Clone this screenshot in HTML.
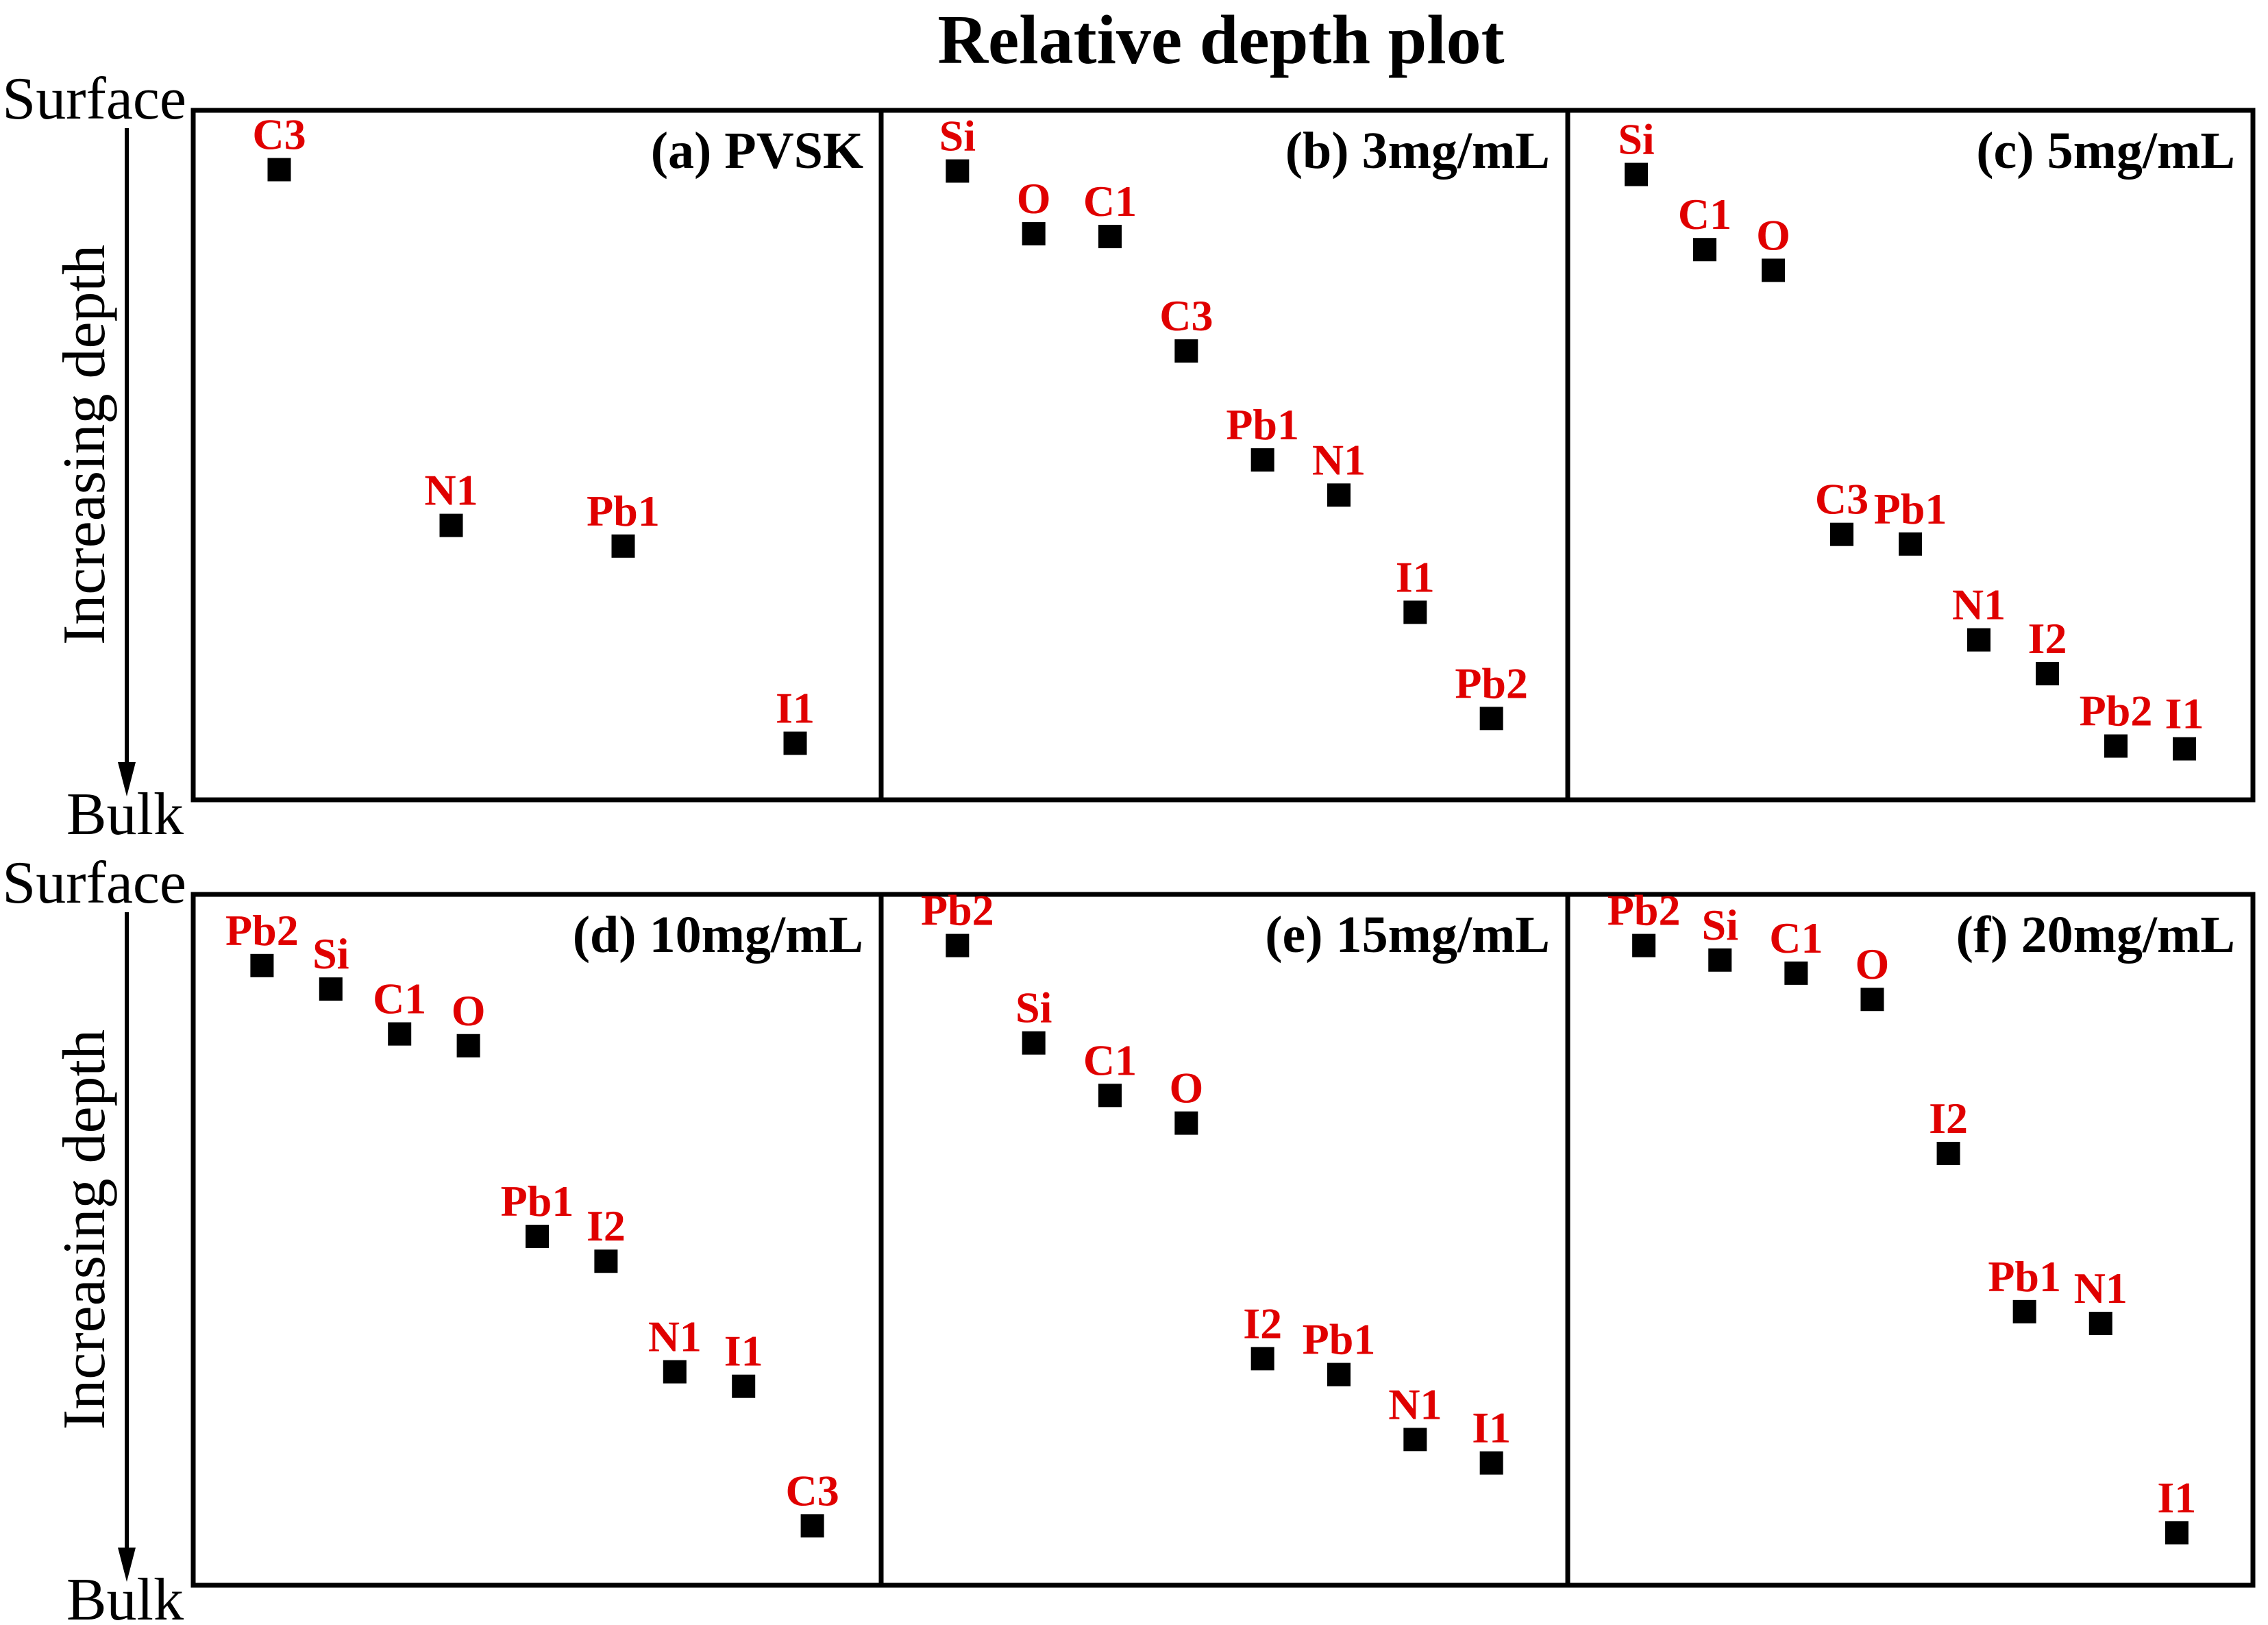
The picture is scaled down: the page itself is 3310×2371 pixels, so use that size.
<!DOCTYPE html>
<html><head><meta charset="utf-8">
<style>
html,body{margin:0;padding:0;background:#fff;}
svg{display:block;}
text{font-family:"Liberation Serif",serif;}
</style></head>
<body>
<svg id="chart" width="3310" height="2371" viewBox="0 0 3310 2371" xmlns="http://www.w3.org/2000/svg">
<text x="1782" y="92" font-size="102" font-weight="bold" text-anchor="middle">Relative depth plot</text>
</svg>
<script>
// Panel titles
const panelTitles = ["(a) PVSK","(b) 3mg/mL","(c) 5mg/mL","(d) 10mg/mL","(e) 15mg/mL","(f) 20mg/mL"];
// x domains (index units) per panel
const xDomains = [[0.5,4.5],[0,9],[0,10],[0,10],[0,9],[0,9]];
// species labels per panel
const labelsA = ["C3","N1","Pb1","I1"];
const labelsB = ["Si","O","C1","C3","Pb1","N1","I1","Pb2"];
const labelsC = ["Si","C1","O","C3","Pb1","N1","I2","Pb2","I1"];
const labelsD = ["Pb2","Si","C1","O","Pb1","I2","N1","I1","C3"];
const labelsE = ["Pb2","Si","C1","O","I2","Pb1","N1","I1"];
const labelsF = ["Pb2","Si","C1","O","I2","Pb1","N1","I1"];
// relative depth (0 = surface, 100 = bulk)
const depthA = [8.6,60.2,63.2,91.8];
const depthB = [8.8,17.9,18.3,34.9,50.7,55.8,72.8,88.2];
const depthC = [9.3,20.2,23.2,61.5,62.9,76.8,81.7,92.2,92.6];
const depthD = [10.3,13.7,20.2,21.9,49.5,53.1,69.1,71.2,91.4];
const depthE = [7.4,21.5,29.1,33.1,67.2,69.5,78.9,82.3];
const depthF = [7.4,9.5,11.4,15.2,37.5,60.4,62.1,92.4];

const allLabels=[labelsA,labelsB,labelsC,labelsD,labelsE,labelsF];
const allDepth=[depthA,depthB,depthC,depthD,depthE,depthF];

const NS="http://www.w3.org/2000/svg";
const svg=document.getElementById('chart');
function mk(tag,attrs,parent){const e=document.createElementNS(NS,tag);for(const k in attrs)e.setAttribute(k,attrs[k]);(parent||svg).appendChild(e);return e;}

const colX=[282,1286,2288,3288];
const rowY=[[161,1167],[1305,2313]];

for(let r=0;r<2;r++){
  const [t,b]=rowY[r];
  const g=mk('g',{});
  
  
  const s=mk('text',{x:272,y:t+12,'font-size':88,'text-anchor':'end'},g);s.textContent='Surface';
  
  
  const bl=mk('text',{x:268,y:b+50,'font-size':88,'text-anchor':'end'},g);bl.textContent='Bulk';
  
  
  const ln=mk('line',{x1:185,y1:t+26,x2:185,y2:b-50,stroke:'#000','stroke-width':6},g);
  
  
  const hd=mk('polygon',{points:`172,${b-55} 198,${b-55} 185,${b-5}`,fill:'#000'},g);
  
  
  const cy=(t+b)/2-15;
  const it=mk('text',{x:0,y:0,'font-size':88,'text-anchor':'middle',transform:`translate(152,${cy}) rotate(-90)`},g);
  it.textContent='Increasing depth';
  
  
}

for(let p=0;p<6;p++){
  const r=Math.floor(p/3), c=p%3;
  const x0=colX[c], x1=colX[c+1], [y0,y1]=rowY[r];
  const g=mk('g',{});
  
  
  const rect=mk('rect',{x:x0,y:y0,width:x1-x0,height:y1-y0,fill:'none',stroke:'#000','stroke-width':7},g);
  
  
  const tt=mk('text',{x:x1-26,y:y0+84,'font-size':76,'font-weight':'bold','text-anchor':'end'},g);
  tt.textContent=panelTitles[p];
  
  
  const [d0,d1]=xDomains[p];
  const xs=v=>x0+(v-d0)/(d1-d0)*(x1-x0);
  const ys=v=>y0+v/100*(y1-y0);
  const labs=allLabels[p], dep=allDepth[p];
  for(let i=0;i<labs.length;i++){
    const cx=xs(i+1), cy=ys(dep[i]);
    const m=mk('rect',{x:cx-17,y:cy-17,width:34,height:34,fill:'#000'},g);
    
    
    const l=mk('text',{x:cx,y:cy-30,'font-size':64,'font-weight':'bold',fill:'#e00000','text-anchor':'middle'},g);
    l.textContent=labs[i];
    
    
  }
}
</script>
</body></html>
